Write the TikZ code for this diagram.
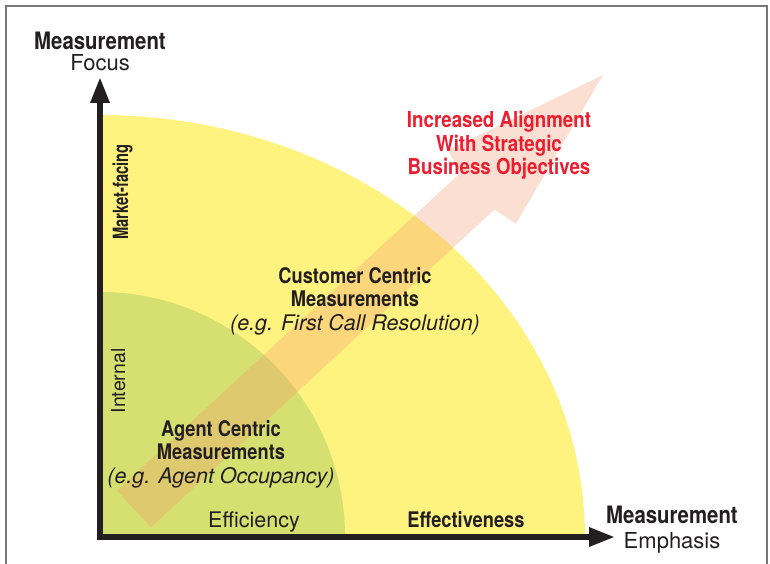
\documentclass[tikz,border=0pt]{standalone}
\usepackage{fontspec}
\setmainfont{TeX Gyre Heros}
\newfontfamily\narrowfont[FakeStretch=0.85]{TeX Gyre Heros}
\newfontfamily\tightfont[FakeStretch=0.7]{TeX Gyre Heros}
\usepackage{xcolor}
\usetikzlibrary{arrows.meta,positioning}

\definecolor{inkdark}{RGB}{35,31,32}
\definecolor{zoneyellow}{RGB}{255,243,128}
\definecolor{zonegreen}{RGB}{213,224,112}
\definecolor{trendpeach}{RGB}{245,150,110}
\definecolor{trendred}{RGB}{237,28,46}
\definecolor{framegray}{RGB}{120,120,120}

\tikzset{
	axisline/.style={inkdark, line width=6pt, line join=miter,
			{Triangle[length=26pt,width=18pt]}-{Triangle[length=26pt,width=18pt]}},
	headtxt/.style={font=\narrowfont\bfseries\fontsize{24}{26}\selectfont, text=inkdark, inner sep=0pt, anchor=base},
	subtxt/.style={font=\fontsize{22}{24}\selectfont, text=inkdark, inner sep=0pt, anchor=base},
	blocktxt/.style={font=\fontsize{21.5}{23.5}\selectfont, text=inkdark, inner sep=0pt, align=center, anchor=base},
	goaltxt/.style={font=\narrowfont\bfseries\fontsize{22}{23.5}\selectfont, text=trendred, inner sep=0pt, align=center, anchor=base},
	sidetxt/.style={text=inkdark, inner sep=0pt, rotate=90, anchor=base},
}

\begin{document}
\begin{tikzpicture}[x=1pt, y=1pt]
		\useasboundingbox (0,0) rectangle (770,563);
		\draw[framegray, line width=1.5pt] (6,-10) |- (767,557) -- (767,-10);

		\coordinate (O) at (100,26);
		\coordinate (ytip) at (100,486);
		\coordinate (xtip) at (615,26);

		% zones
		\fill[zoneyellow] (O) -- (585,26) arc[start angle=0, end angle=90, x radius=485, y radius=422] -- cycle;
		\fill[zonegreen] (O) -- (345,26) arc[start angle=0, end angle=90, radius=245] -- cycle;

		% trend arrow
		\begin{scope}[shift={(134,54)}, rotate=42.78]
			\fill[trendpeach, opacity=0.3] (0,-25) -- (468,-25) -- (474,-50) -- (639,0)
				-- (474,50) -- (468,25) -- (0,25) -- cycle;
		\end{scope}

		\draw[axisline] (ytip) -- (O) -- (xtip);

		\node[headtxt] (focusHead) at (100,513) {Measurement};
		\node[subtxt] (focusSub) at (100,492) {Focus};
		\node[headtxt] (emphHead) at (672,40) {Measurement};
		\node[subtxt] (emphSub) at (672,15) {Emphasis};

		\node[sidetxt, font=\tightfont\bfseries\fontsize{21}{23}\selectfont] (market) at (128,371) {Market-facing};
		\node[sidetxt, font=\fontsize{19.5}{22}\selectfont] (internal) at (125,182) {Internal};

		\node[subtxt, font=\fontsize{21.5}{23.5}\selectfont] (effic) at (254,36) {Efficiency};
		\node[headtxt, font=\narrowfont\bfseries\fontsize{21.5}{23.5}\selectfont] (effect) at (466,36) {Effectiveness};

		% multi-line nodes sit on their last baseline
		\node[goaltxt] (goal) at (499,388) {Increased Alignment\\With Strategic\\Business Objectives};
		\node[blocktxt] (customer) at (355,233) {{\narrowfont\bfseries Customer Centric}\\{\narrowfont\bfseries Measurements}\\\textit{(e.g. First Call Resolution)}};
		\node[blocktxt] (agent) at (221,80) {{\narrowfont\bfseries Agent Centric}\\{\narrowfont\bfseries Measurements}\\\textit{(e.g. Agent Occupancy)}};
	\end{tikzpicture}
\end{document}
